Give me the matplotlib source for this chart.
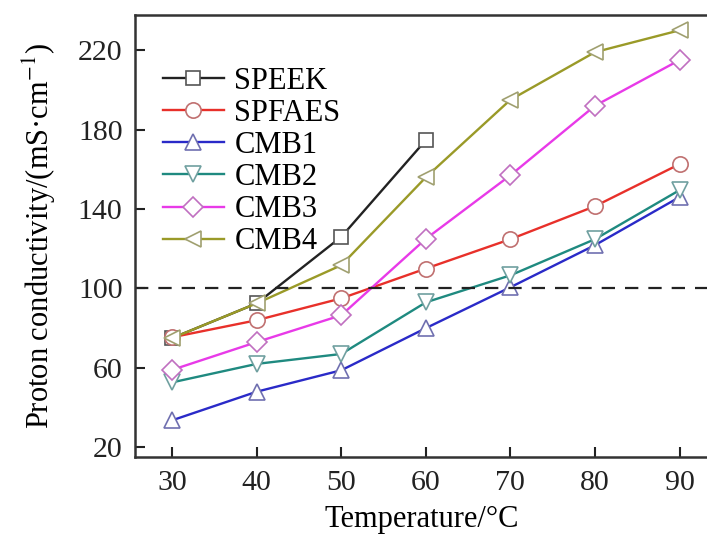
import matplotlib
matplotlib.use('Agg')
import matplotlib.pyplot as plt

plt.rcParams['font.family'] = ['Liberation Serif', 'DejaVu Serif']
plt.rcParams['mathtext.fontset'] = 'stix'

temps = [30, 40, 50, 60, 70, 80, 90]
temps_speek = [30, 40, 50, 60]

speek = [75, 92.5, 126, 174.7]
spfaes = [75.4, 84, 95, 110, 124.8, 141.4, 162.6]
cmb1 = [33.6, 48, 58.8, 80, 100.6, 121.8, 146]
cmb2 = [52.7, 62, 67, 93, 106.6, 124.8, 149.5]
cmb3 = [59, 73, 86.5, 125, 157, 192, 215]
cmb4 = [75, 92.5, 111.7, 156, 195, 219, 230]

names = ['SPEEK', 'SPFAES', 'CMB1', 'CMB2', 'CMB3', 'CMB4']
colors = ['#222222', '#e8302a', '#2a2ac8', '#1f8a80', '#e83ae8', '#9a9a28']
edges = ['#555555', '#c07070', '#7070b0', '#70a0a0', '#c070c0', '#a0a070']
markers = ['s', 'o', '^', 'v', 'D', '<']
sizes = [10, 11, 12, 12, 10, 12]

fig = plt.figure(figsize=(7.07, 5.43), dpi=100)
ax = fig.add_axes([0.191, 0.158, 0.812, 0.814])

series = [(temps_speek, speek), (temps, spfaes), (temps, cmb1),
          (temps, cmb2), (temps, cmb3), (temps, cmb4)]
for i, (x, y) in enumerate(series):
    ax.plot(x, y, color=colors[i], lw=1.7, marker=markers[i], ms=sizes[i],
            mfc='white', mec=edges[i], mew=1.2, label=names[i])

# 100 mS/cm reference line
ax.axhline(100, color='#222222', lw=1.6, ls=(0, (6, 4.5)))

ax.set_xlim(25.6, 93.5)
ax.set_ylim(15, 237.6)
ax.set_xticks(temps)
ax.set_yticks([20, 60, 100, 140, 180, 220])
ax.tick_params(direction='in', length=7, width=1.5, labelsize=21.5, pad=9,
               colors='#222222')
for s in ax.spines.values():
    s.set_linewidth(1.8)
    s.set_color('#333333')

ax.set_xlabel('Temperature/°C', fontsize=22, labelpad=7)
ax.set_ylabel('Proton conductivity/(mS·cm$^{-1}$)', fontsize=22, labelpad=14)

ax.legend(loc='upper left', bbox_to_anchor=(0.0, 0.945), frameon=False,
          fontsize=22, handlelength=2.0, handletextpad=0.35,
          labelspacing=0.1, borderaxespad=0.5)

plt.savefig('out.png', dpi=100)
